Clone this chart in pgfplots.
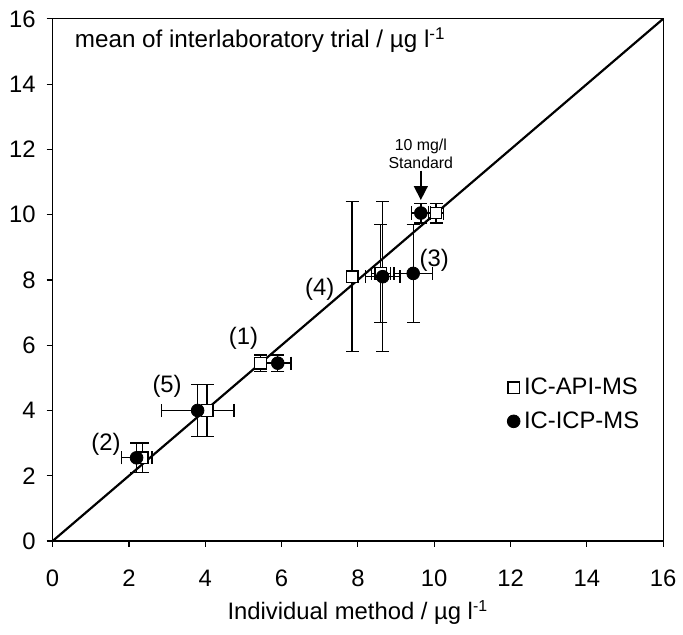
\documentclass[border=0pt]{standalone}
\usepackage{pgfplots}
\pgfplotsset{compat=1.18}
\usepackage{pgfplotstable}
\usepackage{fontspec}
\setmainfont{Liberation Sans}
\usetikzlibrary{arrows.meta}

\pgfplotstableread{
x     y     ex    ey
2.35  2.55  0.15  0.45
4.05  4.00  0.15  0.80
5.45  5.45  0.15  0.25
7.85  8.10  0.10  2.30
8.60  8.20  0.25  1.50
10.05 10.05 0.20  0.30
}\apims
\pgfplotstableread{
x     y     ex    ey
2.20  2.55  0.40  0.45
3.80  4.00  0.95  0.80
5.90  5.45  0.35  0.25
8.65  8.10  0.45  2.30
9.45  8.20  0.50  1.50
9.65  10.05 0.25  0.30
}\icpms

\begin{document}
\begin{tikzpicture}
\begin{axis}[
  scale only axis,
  width=307.5pt, height=263pt,
  xmin=0, xmax=16, ymin=0, ymax=16,
  xtick={0,2,...,16}, ytick={0,2,...,16},
  xtick pos=bottom, ytick pos=left,
  tick align=outside, major tick length=3pt,
  axis line style={line width=0.6pt},
  tick style={black, line width=0.6pt},
  ticklabel style={font=\fontsize{12}{14}\selectfont},
  xticklabel style={yshift=-8pt},
  yticklabel style={xshift=-2pt},
  /pgf/number format/assume math mode=true,
  legend style={at={(axis cs:11.75,5.25)}, anchor=north west, draw=none, fill=none,
    font=\fontsize{12}{14}\selectfont, row sep=3pt,
    /tikz/every even column/.append style={column sep=3pt}},
  legend cell align=left,
  clip=false,
]
\addplot[black, line width=1.1pt, forget plot] coordinates {(0,0) (16,16)};

\addplot[only marks, mark=square*, mark size=2.9pt,
  mark options={fill=white, draw=black, line width=0.6pt},
  error bars/.cd, x dir=both, x explicit, y dir=both, y explicit,
  error bar style={black, line width=0.7pt},
  error mark options={rotate=90, black, line width=0.7pt, mark size=3.3pt}]
  table[x=x, y=y, x error=ex, y error=ey] {\apims};
\addlegendentry{IC-API-MS}

\addplot[only marks, mark=*, mark size=3.2pt,
  mark options={fill=black, draw=black},
  error bars/.cd, x dir=both, x explicit, y dir=both, y explicit,
  error bar style={black, line width=0.7pt},
  error mark options={rotate=90, black, line width=0.7pt, mark size=3.3pt}]
  table[x=x, y=y, x error=ex, y error=ey] {\icpms};
\addlegendentry{IC-ICP-MS}

\node[anchor=west, font=\fontsize{12.2}{14}\selectfont] at (axis cs:0.4,15.35)
  {mean of interlaboratory trial / µg l\textsuperscript{-1}};

\node[font=\fontsize{12}{14}\selectfont] at (axis cs:5.0,6.2) {(1)};
\node[font=\fontsize{12}{14}\selectfont] at (axis cs:1.4,2.95) {(2)};
\node[font=\fontsize{12}{14}\selectfont] at (axis cs:10.0,8.6) {(3)};
\node[font=\fontsize{12}{14}\selectfont] at (axis cs:7.0,7.7) {(4)};
\node[font=\fontsize{12}{14}\selectfont] at (axis cs:3.0,4.75) {(5)};

\node[font=\fontsize{8}{9}\selectfont, align=center, inner sep=1pt, anchor=south]
  at (axis cs:9.65,11.35) {10 mg/l\\Standard};
\draw[line width=0.8pt, -{Triangle[length=7pt, width=7pt]}]
  (axis cs:9.65,11.35) -- (axis cs:9.65,10.45);

\node[font=\fontsize{12}{14}\selectfont] at ([yshift=-36pt]rel axis cs:0.5,0)
  {Individual method / µg l\textsuperscript{-1}};
\end{axis}
\path ([shift={(-26.5pt,-47pt)}]current axis.south west) rectangle ([shift={(7.5pt,9.5pt)}]current axis.north east);
\end{tikzpicture}
\end{document}
